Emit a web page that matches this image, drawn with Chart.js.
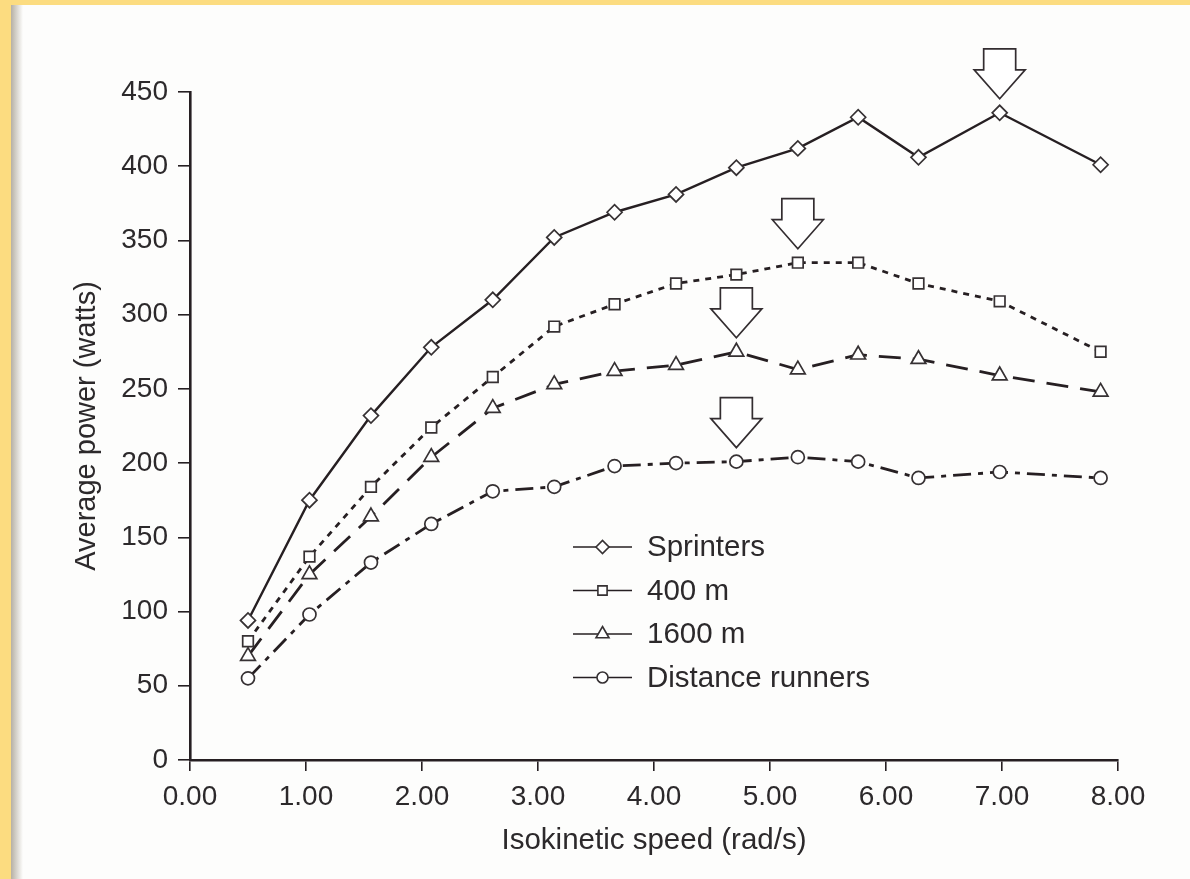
<!DOCTYPE html>
<html><head><meta charset="utf-8">
<script src="https://cdn.jsdelivr.net/npm/chart.js@4.4.1/dist/chart.umd.min.js"></script>
<style>
html,body{margin:0;padding:0;width:1190px;height:879px;overflow:hidden;background:#fcdc80;}
#paper{position:absolute;left:11px;top:5px;right:0;bottom:0;background:#fdfdfc;}
#shadow{position:absolute;left:11px;top:5px;width:12px;bottom:0;background:linear-gradient(to right,#b6b0a4,rgba(253,253,252,0));}
#c{position:absolute;left:0;top:0;}
</style></head><body>
<div id="paper"></div><div id="shadow"></div>
<canvas id="c" width="1190" height="879"></canvas>
<script>
// ---- data ----
const speeds = [0.50, 1.03, 1.56, 2.08, 2.61, 3.14, 3.66, 4.19, 4.71, 5.24, 5.76, 6.28, 6.98, 7.85];
const seriesNames = ['Sprinters', '400 m', '1600 m', 'Distance runners'];
const sprinters = [94, 175, 232, 278, 310, 352, 369, 381, 399, 412, 433, 406, 436, 401];
const m400 = [80, 137, 184, 224, 258, 292, 307, 321, 327, 335, 335, 321, 309, 275];
const m1600 = [70, 125, 164, 204, 237, 253, 262, 266, 275, 263, 273, 270, 259, 248];
const distance = [55, 98, 133, 159, 181, 184, 198, 200, 201, 204, 201, 190, 194, 190];
const arrowIndex = [12, 9, 8, 8];
const xTickValues = [0, 1, 2, 3, 4, 5, 6, 7, 8];
const xTickLabels = ['0.00', '1.00', '2.00', '3.00', '4.00', '5.00', '6.00', '7.00', '8.00'];
const yTickValues = [0, 50, 100, 150, 200, 250, 300, 350, 400, 450];
const yTickLabels = ['0', '50', '100', '150', '200', '250', '300', '350', '400', '450'];
const seriesValues = [sprinters, m400, m1600, distance];

// ---- styles ----
const ink = '#261f22';
const markInk = '#363133';
const textInk = '#2c292b';
const FONT = '"Liberation Sans", Arial, Helvetica, sans-serif';
const styles = [
  {pointStyle: 'rectRot', radius: 7.5, dash: [], width: 2.4},
  {pointStyle: 'rect', radius: 7.5, dash: [6, 6], width: 2.8},
  {pointStyle: 'triangle', radius: 8.5, dash: [22, 12], width: 2.8},
  {pointStyle: 'circle', radius: 6.5, dash: [18, 7, 5, 7], width: 2.8}
];
const legendStyles = [
  {pointStyle: 'rectRot', radius: 6.5},
  {pointStyle: 'rect', radius: 6.5},
  {pointStyle: 'triangle', radius: 7.5},
  {pointStyle: 'circle', radius: 5.5}
];

const datasets = seriesValues.map((vals, i) => ({
  label: seriesNames[i],
  data: speeds.map((x, j) => ({x: x, y: vals[j]})),
  borderColor: ink,
  borderWidth: styles[i].width,
  borderDash: styles[i].dash,
  pointStyle: styles[i].pointStyle,
  pointRadius: styles[i].radius,
  pointHoverRadius: styles[i].radius,
  pointBackgroundColor: '#ffffff',
  pointBorderColor: markInk,
  pointBorderWidth: 1.7,
  tension: 0,
  fill: false
}));

function drawMarker(ctx, style, radius, x, y) {
  if (Chart.helpers && Chart.helpers.drawPoint) {
    ctx.save();
    ctx.fillStyle = '#ffffff';
    ctx.strokeStyle = markInk;
    ctx.lineWidth = 1.6;
    ctx.setLineDash([]);
    Chart.helpers.drawPoint(ctx, {pointStyle: style, radius: radius, borderWidth: 1.6}, x, y);
    ctx.restore();
  }
}

const overlayPlugin = {
  id: 'overlay',
  afterDatasetsDraw(chart) {
    const ctx = chart.ctx;
    const xs = chart.scales.x, ys = chart.scales.y;
    ctx.save();
    ctx.setLineDash([]);
    ctx.lineJoin = 'miter';
    arrowIndex.forEach((idx, i) => {
      const px = xs.getPixelForValue(speeds[idx]);
      const py = ys.getPixelForValue(seriesValues[i][idx]);
      const tip = py - 14, top = tip - 50, shoulder = top + 21;
      ctx.beginPath();
      ctx.moveTo(px - 16, top);
      ctx.lineTo(px + 16, top);
      ctx.lineTo(px + 16, shoulder);
      ctx.lineTo(px + 25.5, shoulder);
      ctx.lineTo(px, tip);
      ctx.lineTo(px - 25.5, shoulder);
      ctx.lineTo(px - 16, shoulder);
      ctx.closePath();
      ctx.fillStyle = '#ffffff';
      ctx.fill();
      ctx.strokeStyle = '#332d30';
      ctx.lineWidth = 1.7;
      ctx.stroke();
    });
    ctx.restore();

    const ca = chart.chartArea;
    const lx = ca.left + 383, ly = ca.top + 455, gap = 43.5;
    ctx.save();
    seriesNames.forEach((name, i) => {
      const y = ly + i * gap;
      ctx.beginPath();
      ctx.setLineDash([]);
      ctx.strokeStyle = ink;
      ctx.lineWidth = 1.7;
      ctx.moveTo(lx, y);
      ctx.lineTo(lx + 59, y);
      ctx.stroke();
      drawMarker(ctx, legendStyles[i].pointStyle, legendStyles[i].radius, lx + 29.5, y);
      ctx.fillStyle = textInk;
      ctx.font = '29.5px ' + FONT;
      ctx.textAlign = 'left';
      ctx.textBaseline = 'middle';
      ctx.fillText(name, lx + 74, y + 1);
    });
    ctx.restore();
  }
};

new Chart(document.getElementById('c'), {
  type: 'line',
  data: {datasets: datasets},
  plugins: [overlayPlugin],
  options: {
    responsive: false,
    animation: false,
    devicePixelRatio: 1,
    layout: {padding: {left: 0, top: 92, right: 72, bottom: 0}},
    plugins: {legend: {display: false}, tooltip: {enabled: false}},
    scales: {
      x: {
        type: 'linear', min: 0, max: 8,
        afterBuildTicks: (s) => { s.ticks = xTickValues.map(v => ({value: v})); },
        afterFit: (s) => { s.height = 119; },
        ticks: {
          callback: (v) => xTickLabels[xTickValues.indexOf(v)],
          color: textInk, font: {family: FONT, size: 28}, padding: 9, maxRotation: 0, autoSkip: false
        },
        grid: {display: true, drawOnChartArea: false, drawTicks: true, tickLength: 11, color: ink, lineWidth: 1.6},
        border: {display: true, color: ink, width: 2.6},
        title: {display: true, text: 'Isokinetic speed (rad/s)', color: textInk, font: {family: FONT, size: 29.5}, padding: {top: 0, bottom: 20}}
      },
      y: {
        type: 'linear', min: 0, max: 450,
        afterBuildTicks: (s) => { s.ticks = yTickValues.map(v => ({value: v})); },
        afterFit: (s) => { s.width = 190; },
        ticks: {
          callback: (v) => yTickLabels[yTickValues.indexOf(v)],
          color: textInk, font: {family: FONT, size: 28}, padding: 10, autoSkip: false
        },
        grid: {display: true, drawOnChartArea: false, drawTicks: true, tickLength: 12, color: ink, lineWidth: 1.6},
        border: {display: true, color: ink, width: 2.6},
        title: {display: true, text: 'Average power (watts)', color: textInk, font: {family: FONT, size: 29}, padding: {top: 70, bottom: 0}}
      }
    }
  }
});
</script>
</body></html>
